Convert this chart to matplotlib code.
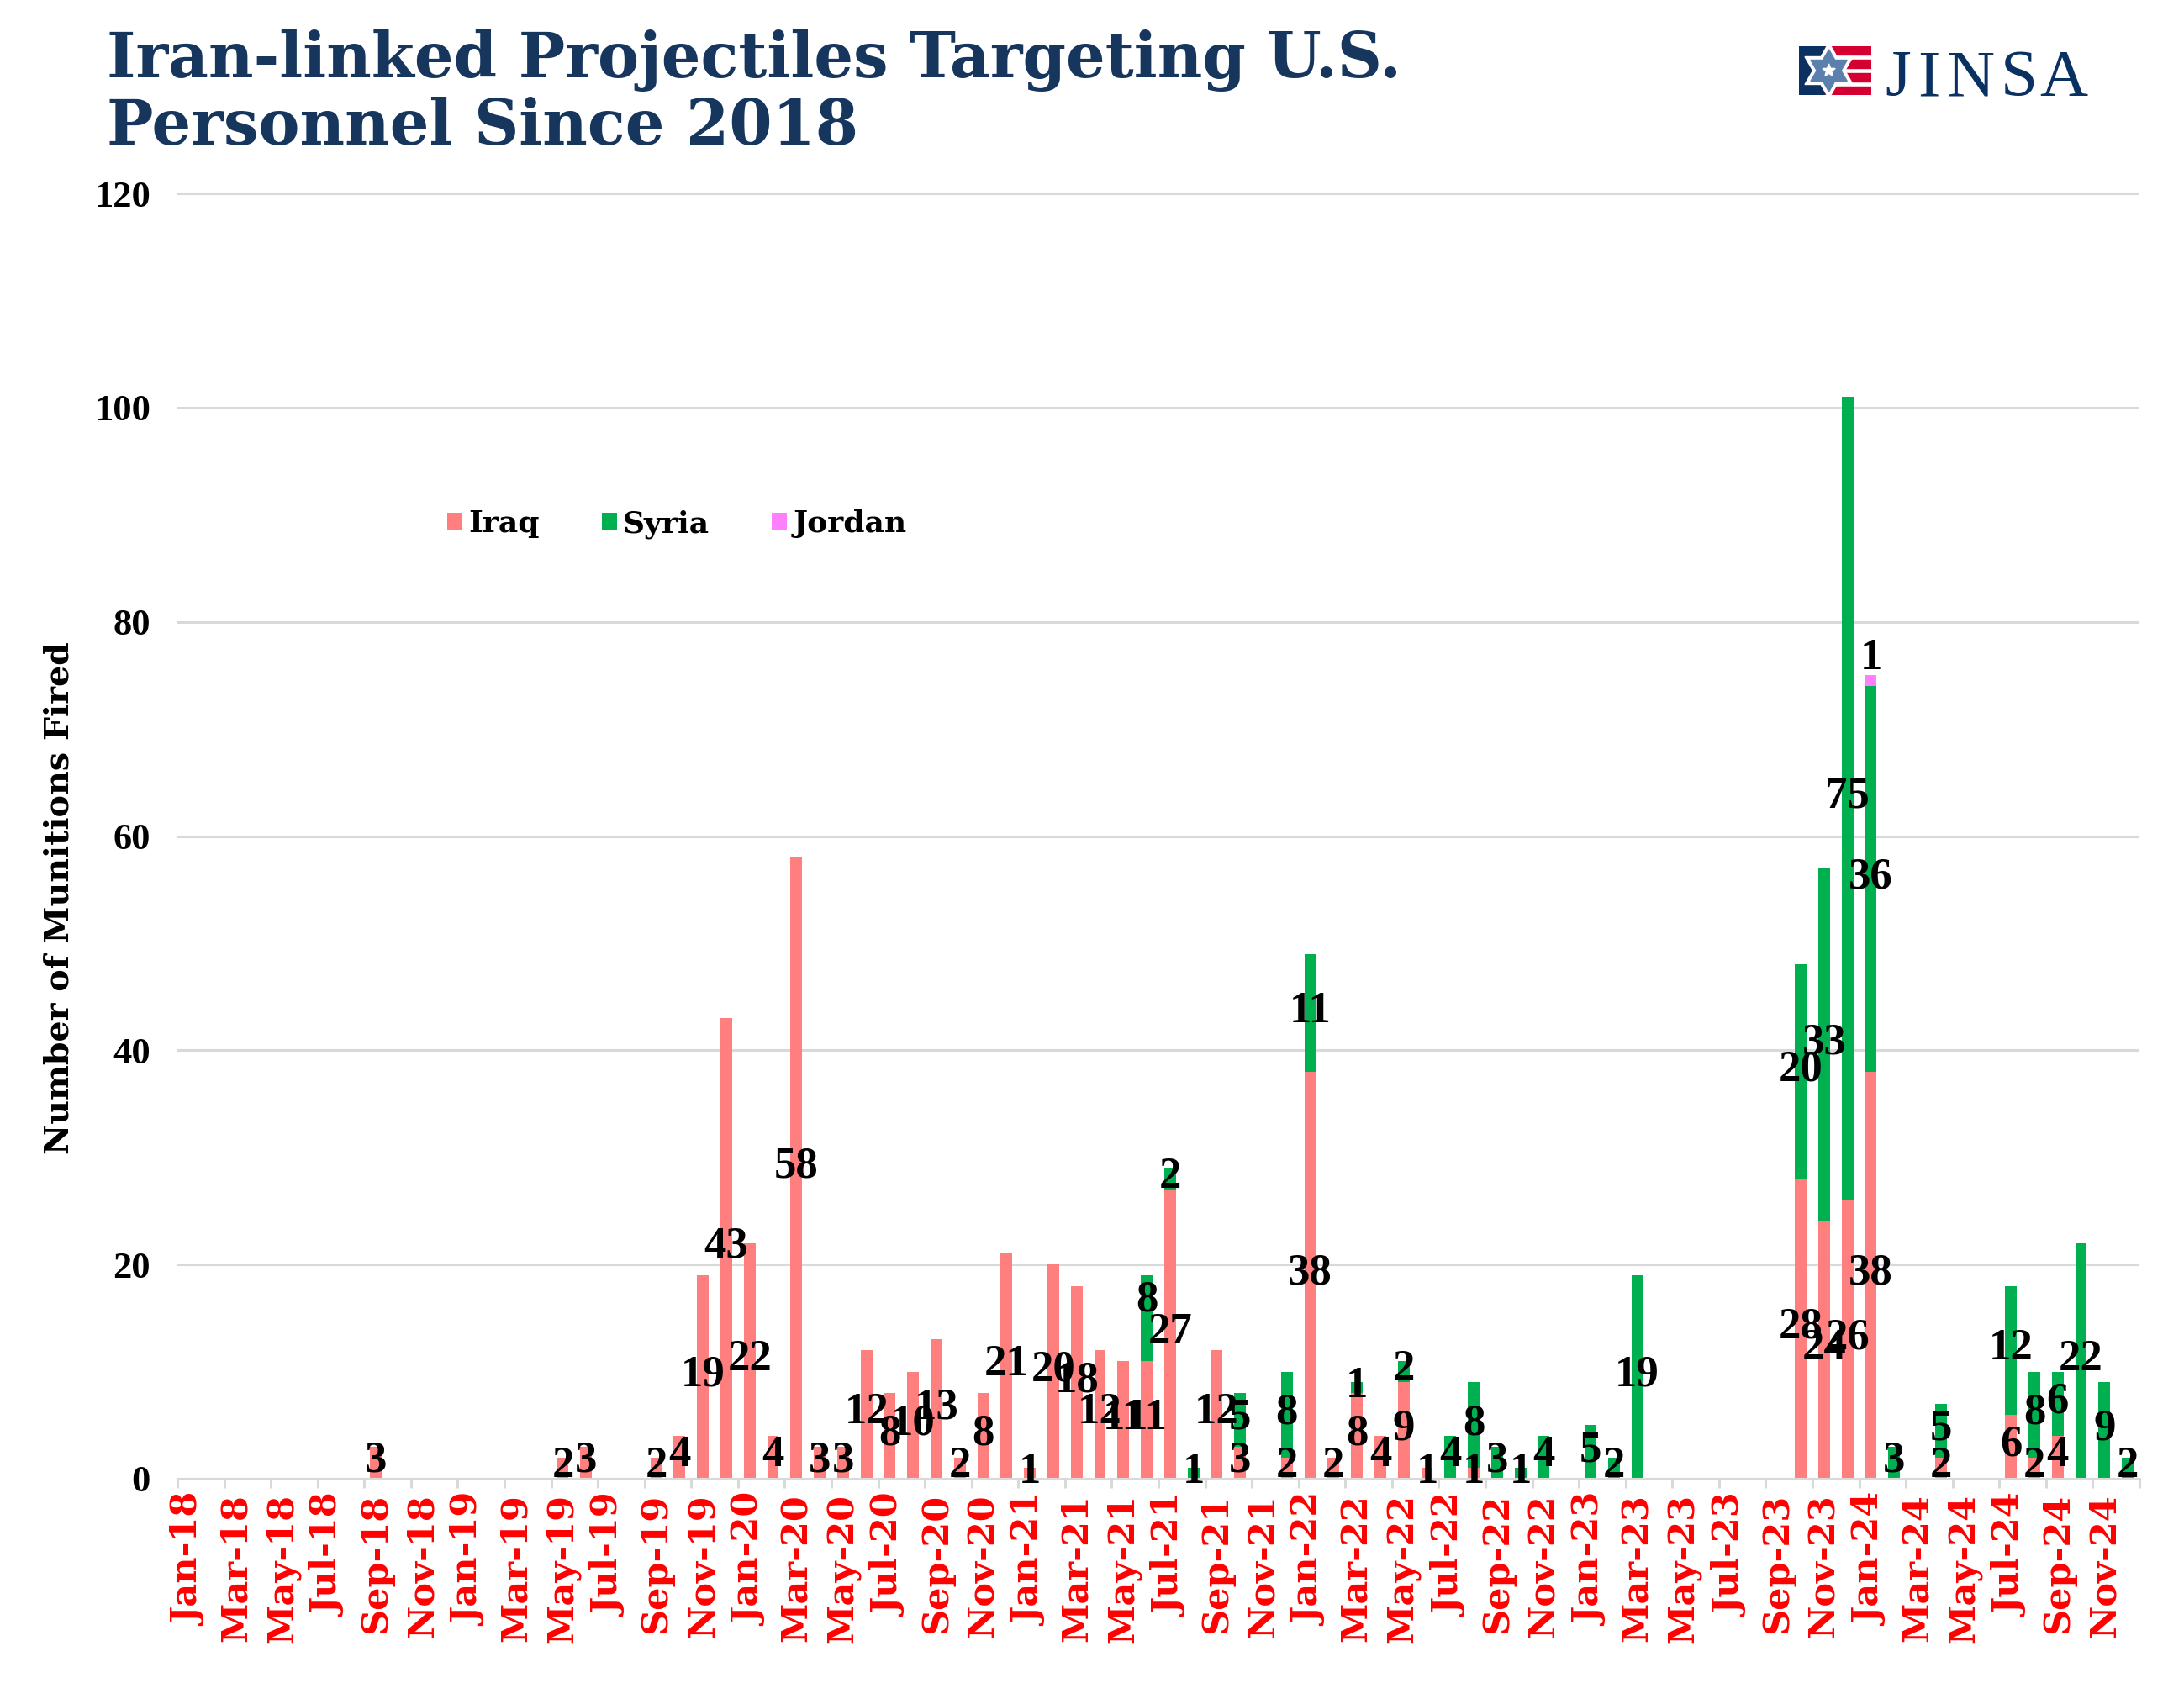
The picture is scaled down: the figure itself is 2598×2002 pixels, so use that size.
import matplotlib
import numpy as np
import pandas as pd

matplotlib.use("Agg")
import matplotlib.pyplot as plt  # noqa: E402
from matplotlib.patches import Polygon, Rectangle  # noqa: E402

plt.rcParams["font.family"] = ["DejaVu Serif"]
NARROW = ["Liberation Serif"]

W, H = 2598, 2002

months = pd.date_range("2018-01-01", "2024-12-01", freq="MS").strftime("%b-%y").tolist()

iraq = [
    0, 0, 0, 0, 0, 0, 0, 0, 3, 0, 0, 0,
    0, 0, 0, 0, 2, 3, 0, 0, 2, 4, 19, 43,
    22, 4, 58, 3, 3, 12, 8, 10, 13, 2, 8, 21,
    1, 20, 18, 12, 11, 11, 27, 0, 12, 3, 0, 2,
    38, 2, 8, 4, 9, 1, 0, 1, 0, 0, 0, 0,
    0, 0, 0, 0, 0, 0, 0, 0, 0, 28, 24, 26,
    38, 0, 0, 2, 0, 0, 6, 2, 4, 0, 0, 0,
]
syria = [
    0, 0, 0, 0, 0, 0, 0, 0, 0, 0, 0, 0,
    0, 0, 0, 0, 0, 0, 0, 0, 0, 0, 0, 0,
    0, 0, 0, 0, 0, 0, 0, 0, 0, 0, 0, 0,
    0, 0, 0, 0, 0, 8, 2, 1, 0, 5, 0, 8,
    11, 0, 1, 0, 2, 0, 4, 8, 3, 1, 4, 0,
    5, 2, 19, 0, 0, 0, 0, 0, 0, 20, 33, 75,
    36, 3, 0, 5, 0, 0, 12, 8, 6, 22, 9, 2,
]
jordan = [0] * 72 + [1] + [0] * 11

yticks = [0, 20, 40, 60, 80, 100, 120]

IRAQ_C = "#FF7F7F"
SYRIA_C = "#00B050"
JORDAN_C = "#FF80FF"
GRID_C = "#D9D9D9"
NAVY = "#17365D"

fig = plt.figure(figsize=(W / 100, H / 100), dpi=100)
ax = fig.add_axes([211 / W, 1 - 1759 / H, (2545 - 211) / W, (1759 - 230) / H])

x = np.arange(len(months)) + 0.5
iraq = np.array(iraq)
syria = np.array(syria)
jordan = np.array(jordan)

b1 = ax.bar(x, iraq, 0.5, color=IRAQ_C, label="Iraq", zorder=2)
b2 = ax.bar(x, syria, 0.5, bottom=iraq, color=SYRIA_C, label="Syria", zorder=2)
b3 = ax.bar(x, jordan, 0.5, bottom=iraq + syria, color=JORDAN_C, label="Jordan", zorder=2)

ax.set_xlim(0, len(months))
ax.set_ylim(0, 120)

# data labels sit mid segment, a couple were moved by hand in the original
nudge = {(41, "syria"): 1.5, (72, "jordan"): 1.9}
for name, vals, bottoms in [
    ("iraq", iraq, np.zeros(len(iraq))),
    ("syria", syria, iraq),
    ("jordan", jordan, iraq + syria),
]:
    for i, v in enumerate(vals):
        if v == 0:
            continue
        ax.annotate(
            str(v),
            (x[i], bottoms[i] + v / 2 + nudge.get((i, name), 0)),
            xytext=(0, 1.5),
            textcoords="offset points",
            ha="center",
            va="center",
            fontsize=38,
            fontweight="bold",
            family=NARROW,
            color="black",
            zorder=5,
            annotation_clip=False,
        )

ax.set_yticks(yticks)
ax.set_yticklabels([str(t) for t in yticks], fontsize=32, fontweight="bold", color="black", family=NARROW)
ax.tick_params(axis="y", length=0, pad=23)
ax.grid(axis="y", color=GRID_C, linewidth=2.2, zorder=0)
ax.set_axisbelow(True)

# ticks on every second category edge, labels on the category centre
ax.set_xticks(np.arange(0, len(months) + 1, 2))
ax.set_xticklabels([])
ax.tick_params(axis="x", which="major", length=8, width=2.2, color=GRID_C)
ax.set_xticks(x[::2], minor=True)
ax.set_xticklabels(months[::2], minor=True, rotation=90, fontsize=31, fontweight="bold", color="#FF0000")
ax.tick_params(axis="x", which="minor", length=0, pad=13)

for side in ["top", "right", "left"]:
    ax.spines[side].set_visible(False)
ax.spines["bottom"].set_color(GRID_C)
ax.spines["bottom"].set_linewidth(2.2)

fig.text(71 / W, 1 - 1068 / H, "Number of Munitions Fired", rotation=90, ha="center", va="center",
         fontsize=28.5, fontweight="bold", color="black")

fig.text(127 / W, 1 - 172 / H, "Iran-linked Projectiles Targeting U.S.\nPersonnel Since 2018",
         ha="left", va="baseline", fontsize=53, fontweight="bold", color=NAVY, linespacing=1.11)

ax.legend(
    handles=[b1, b2, b3],
    ncol=3,
    loc="upper left",
    bbox_to_anchor=(532 / W, 1 - 606 / H),
    bbox_transform=fig.transFigure,
    frameon=False,
    handlelength=0.5,
    handleheight=0.5,
    handletextpad=0.2,
    columnspacing=2.05,
    borderpad=0,
    borderaxespad=0,
    prop={"size": 26, "weight": "bold"},
)

# logo
logo = fig.add_axes([2140 / W, 1 - 113 / H, 85.5 / W, 58 / H])
logo.set_xlim(0, 85.5)
logo.set_ylim(58, 0)
logo.axis("off")
LOGO_BLUE = "#0A3161"
LOGO_RED = "#D50032"
logo.add_patch(Rectangle((0, 0), 31, 58, color=LOGO_BLUE))
for top in [0, 16, 32, 48]:
    logo.add_patch(Rectangle((31, top), 54.5, 10, color=LOGO_RED))


def hexagram(cx, cy, r):
    pts = []
    for k in range(12):
        rad = r if k % 2 == 0 else r / np.sqrt(3)
        a = np.pi / 2 + k * np.pi / 6
        pts.append((cx + rad * np.cos(a), cy - rad * np.sin(a)))
    return pts


def star5(cx, cy, r):
    pts = []
    for k in range(10):
        rad = r if k % 2 == 0 else r * 0.42
        a = np.pi / 2 + k * np.pi / 5
        pts.append((cx + rad * np.cos(a), cy - rad * np.sin(a)))
    return pts


logo.add_patch(Polygon(hexagram(35.6, 29, 33), color="white"))
logo.add_patch(Polygon(hexagram(35.6, 29, 25), color="#5B80AD"))
logo.add_patch(Polygon(star5(35.6, 29, 8), color="white"))

for letter, cx in zip("JINSA", [2258, 2294, 2344, 2402, 2455]):
    fig.text(cx / W, 1 - 113 / H, letter, ha="center", va="baseline", color=LOGO_BLUE,
             fontsize=57, family=NARROW)

fig.savefig("out.png", dpi=100)
